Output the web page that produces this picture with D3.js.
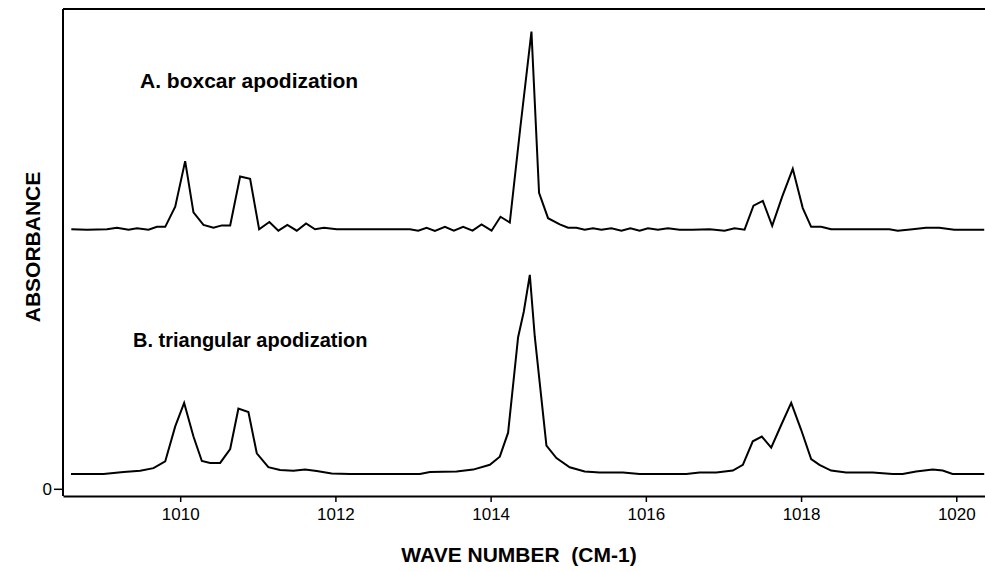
<!DOCTYPE html>
<html>
<head>
<meta charset="utf-8">
<script src="https://cdn.jsdelivr.net/npm/d3@7"></script>
<style>
  html, body { margin: 0; padding: 0; background: #fff; }
  svg { display: block; }
  text { font-family: "Liberation Sans", Arial, Helvetica, sans-serif; fill: #000; }
</style>
</head>
<body>
<svg id="chart" width="985" height="572"></svg>
<script>
// ---- data ----
// wavenumbers (cm-1) and plotted absorbance for trace A (boxcar, offset upward)
const waveA = [1008.597,1008.799,1009.057,1009.185,1009.335,1009.443,1009.592,1009.700,1009.807,1009.936,1010.064,1010.171,1010.300,1010.429,1010.537,1010.644,1010.772,1010.901,1011.017,1011.149,1011.265,1011.381,1011.502,1011.622,1011.737,1011.853,1012.017,1012.574,1012.960,1013.067,1013.175,1013.282,1013.411,1013.526,1013.646,1013.767,1013.883,1014.012,1014.127,1014.247,1014.382,1014.526,1014.624,1014.740,1014.891,1014.998,1015.106,1015.212,1015.319,1015.427,1015.556,1015.685,1015.801,1015.920,1016.027,1016.156,1016.284,1016.435,1016.602,1016.821,1017.014,1017.143,1017.272,1017.387,1017.507,1017.628,1017.757,1017.893,1018.022,1018.130,1018.259,1018.387,1018.623,1019.138,1019.245,1019.438,1019.610,1019.781,1019.974,1020.360];
const absA  = [0.541,0.540,0.541,0.544,0.540,0.543,0.540,0.546,0.546,0.588,0.683,0.576,0.550,0.544,0.549,0.549,0.651,0.646,0.541,0.556,0.538,0.550,0.538,0.553,0.541,0.544,0.541,0.541,0.541,0.538,0.544,0.5375,0.546,0.538,0.546,0.538,0.551,0.538,0.567,0.555,0.752,0.953,0.617,0.564,0.551,0.544,0.544,0.540,0.543,0.540,0.543,0.538,0.543,0.538,0.543,0.540,0.543,0.540,0.540,0.541,0.538,0.543,0.540,0.590,0.600,0.548,0.609,0.667,0.585,0.546,0.546,0.541,0.541,0.541,0.538,0.541,0.544,0.544,0.540,0.540];
// trace B (triangular)
const waveB = [1008.593,1009.013,1009.270,1009.485,1009.656,1009.807,1009.936,1010.051,1010.171,1010.279,1010.386,1010.515,1010.644,1010.750,1010.879,1010.987,1011.136,1011.287,1011.458,1011.609,1011.759,1011.952,1012.188,1012.574,1013.089,1013.218,1013.561,1013.775,1013.990,1014.118,1014.225,1014.354,1014.427,1014.505,1014.569,1014.719,1014.848,1015.019,1015.212,1015.405,1015.705,1015.920,1016.521,1016.692,1016.907,1017.121,1017.250,1017.378,1017.494,1017.615,1017.744,1017.873,1018.001,1018.130,1018.237,1018.387,1018.581,1018.923,1019.180,1019.309,1019.482,1019.696,1019.825,1019.952,1020.360];
const absB  = [0.031,0.031,0.035,0.0375,0.043,0.057,0.130,0.179,0.109,0.058,0.054,0.054,0.083,0.167,0.160,0.074,0.045,0.039,0.0375,0.040,0.037,0.032,0.031,0.031,0.031,0.035,0.036,0.040,0.050,0.067,0.117,0.316,0.369,0.446,0.317,0.090,0.064,0.045,0.036,0.034,0.034,0.031,0.031,0.034,0.034,0.038,0.050,0.099,0.109,0.086,0.133,0.179,0.123,0.062,0.050,0.038,0.034,0.034,0.031,0.031,0.036,0.040,0.038,0.031,0.031];
const xTicks = [1010, 1012, 1014, 1016, 1018, 1020];
const yTicks = [0];
const xDomain = [1008.49, 1020.37];
const yDomain = [-0.015, 1.0];
const labelA = "A. boxcar apodization";
const labelB = "B. triangular apodization";
const xTitle = "WAVE NUMBER  (CM-1)";
const yTitle = "ABSORBANCE";

// ---- layout ----
const svg = d3.select("#chart");
const mLeft = 63, mRight = 985, mTop = 9, mBottom = 496;
const x = d3.scaleLinear().domain(xDomain).range([mLeft, mRight]);
const y = d3.scaleLinear().domain(yDomain).range([mBottom, mTop]);

const line = d3.line().x(d => x(d[0])).y(d => y(d[1]));

svg.append("path")
  .datum(d3.zip(waveA, absA))
  .attr("d", line)
  .attr("fill", "none").attr("stroke", "#000").attr("stroke-width", 2)
  .attr("stroke-linejoin", "miter");

svg.append("path")
  .datum(d3.zip(waveB, absB))
  .attr("d", line)
  .attr("fill", "none").attr("stroke", "#000").attr("stroke-width", 2)
  .attr("stroke-linejoin", "miter");

// top frame line
svg.append("line")
  .attr("x1", mLeft).attr("x2", mRight).attr("y1", mTop).attr("y2", mTop)
  .attr("stroke", "#000").attr("stroke-width", 2);

// x axis
const gx = svg.append("g")
  .attr("transform", `translate(0,${mBottom})`)
  .call(d3.axisBottom(x).tickValues(xTicks).tickSize(6).tickSizeOuter(0).tickPadding(6).tickFormat(d3.format("d")));
gx.select(".domain").attr("stroke-width", 2);
gx.selectAll(".tick line").attr("stroke-width", 1.5);
gx.selectAll(".tick text")
  .style("font-family", "'Liberation Sans Narrow', 'Liberation Sans', Arial, sans-serif")
  .style("font-size", "17px");

// y axis (only the zero tick)
const gy = svg.append("g")
  .attr("transform", `translate(${mLeft},0)`)
  .call(d3.axisLeft(y).tickValues(yTicks).tickSize(9).tickSizeOuter(0).tickPadding(2).tickFormat(d3.format("d")));
gy.select(".domain").attr("d", `M0,${mTop}V${mBottom}`).attr("stroke-width", 2);
gy.selectAll(".tick line").attr("stroke-width", 1.5);
gy.selectAll(".tick text")
  .style("font-family", "'Liberation Sans Narrow', 'Liberation Sans', Arial, sans-serif")
  .style("font-size", "17px");

// labels
svg.append("text").attr("x", 140).attr("y", 88)
  .style("font-size", "21px").style("font-weight", "bold").text(labelA);
svg.append("text").attr("x", 133).attr("y", 347)
  .style("font-size", "20px").style("font-weight", "bold").text(labelB);

svg.append("text")
  .attr("x", 519).attr("y", 562)
  .attr("text-anchor", "middle")
  .style("font-size", "21px").style("font-weight", "bold")
  .style("white-space", "pre")
  .text(xTitle);

svg.append("text")
  .attr("transform", `translate(40,247) rotate(-90)`)
  .attr("text-anchor", "middle")
  .style("font-size", "21px").style("font-weight", "bold")
  .text(yTitle);
</script>
</body>
</html>
